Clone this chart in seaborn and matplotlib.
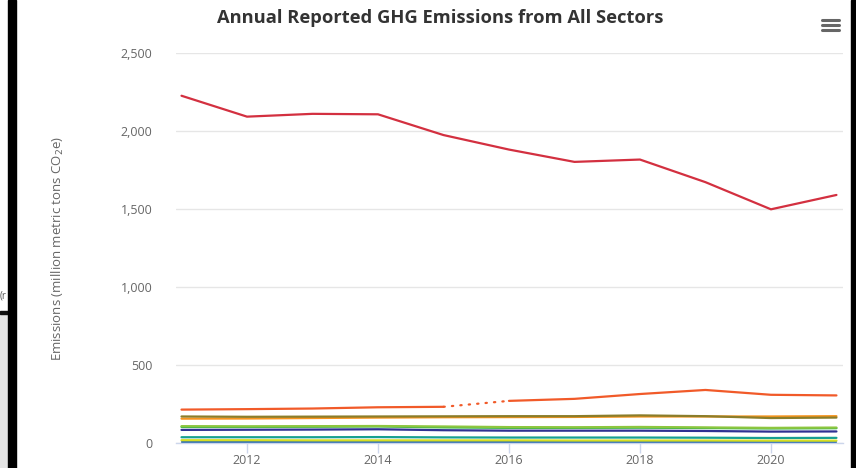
import matplotlib
matplotlib.use("Agg")
import matplotlib.pyplot as plt
import seaborn as sns
import pandas as pd
from matplotlib.lines import Line2D
from matplotlib.patches import Rectangle

years = [2011, 2012, 2013, 2014, 2015, 2016, 2017, 2018, 2019, 2020, 2021]
power_plants = [2226, 2092, 2110, 2107, 1974, 1881, 1802, 1817, 1672, 1498, 1590]
petroleum_gas = [214, 217, 221, 229, 232, 270, 283, 314, 340, 309, 305]
refineries = [170, 168, 169, 170, 171, 172, 172, 177, 172, 160, 163]
chemicals = [156, 157, 160, 163, 165, 166, 167, 170, 170, 170, 172]
other = [108, 107, 108, 109, 106, 102, 101, 103, 100, 97, 99]
minerals = [103, 103, 104, 106, 100, 97, 97, 98, 96, 93, 95]
waste = [84, 85, 86, 88, 82, 79, 79, 79, 77, 73, 74]
metals = [37, 37, 37, 38, 36, 35, 35, 35, 34, 32, 33]
pulp_paper = [18, 18, 17, 17, 17, 17, 16, 16, 16, 15, 15]
government = [4, 4, 4, 4, 4, 4, 4, 4, 4, 4, 4]
y_ticks = [0, 500, 1000, 1500, 2000, 2500]
x_ticks = [2012, 2014, 2016, 2018, 2020]

series = [
    ("Power Plants", power_plants, "#d33040"),
    ("Refineries", refineries, "#8b7d2a"),
    ("Chemicals", chemicals, "#f7941d"),
    ("Other", other, "#8dc63f"),
    ("Minerals", minerals, "#39b54a"),
    ("Waste", waste, "#2e3192"),
    ("Metals", metals, "#17a091"),
    ("Pulp and Paper", pulp_paper, "#d7df23"),
    ("Government", government, "#2b6cb0"),
]

sns.set_theme(style="white")
plt.rcParams['font.family'] = ['Open Sans', 'DejaVu Sans']

fig = plt.figure(figsize=(8.56, 4.68), dpi=100)
ax = fig.add_axes([176/856, 1-443/468, (843-176)/856, (443-53)/468])

for name, vals, col in reversed(series):
    sns.lineplot(x=years, y=vals, color=col, lw=1.6, ax=ax, legend=False)

pcol = "#f15a29"
sns.lineplot(x=years[:5], y=petroleum_gas[:5], color=pcol, lw=1.6, ax=ax)
sns.lineplot(x=years[5:], y=petroleum_gas[5:], color=pcol, lw=1.6, ax=ax)
sns.lineplot(x=years[4:6], y=petroleum_gas[4:6], color=pcol, lw=1.6, ax=ax,
             linestyle=(0, (0.6, 3.2)), dash_capstyle="round")

ax.set_xlim(2010.916, 2021.1)
ax.set_ylim(0, 2500)
ax.set_yticks(y_ticks)
ax.set_yticklabels([f"{v:,}" for v in y_ticks])
ax.set_xticks(x_ticks)
ax.set_xticklabels([str(v) for v in x_ticks])
ax.grid(axis="y", color="#e6e6e6", lw=1)
ax.set_axisbelow(True)
for s in ["top", "right", "left"]:
    ax.spines[s].set_visible(False)
ax.spines["bottom"].set_color("#ccd6eb")
ax.spines["bottom"].set_linewidth(1)
ax.tick_params(axis="x", colors="#666666", labelsize=9, length=7, width=1,
               direction="out", pad=1, bottom=True)
ax.tick_params(axis="x", color="#ccd6eb")
ax.tick_params(axis="y", colors="#666666", labelsize=9, length=0, pad=17)
ax.set_ylabel("Emissions (million metric tons CO$_2$e)", color="#666666",
              fontsize=9.5)
ax.yaxis.set_label_coords(-0.165, 0.5)

fig.text(440/856, 1-18/468, "Annual Reported GHG Emissions from All Sectors",
         ha="center", va="center", fontsize=13.2, fontweight="bold", color="#333333")

# menu icon
for yy in [20, 25, 30]:
    fig.add_artist(Line2D([822/856, 839/856], [1-yy/468, 1-yy/468],
                          color="#666666", lw=2.2))

# screenshot edges
fig.add_artist(Rectangle((0, 0), 8/856, 1-312/468, transform=fig.transFigure,
                         color="#e4e4e4", zorder=5))
fig.add_artist(Rectangle((0, 1-314/468), 8/856, 3/468, transform=fig.transFigure,
                         color="#111111", zorder=6))
fig.add_artist(Rectangle((8/856, 0), 8/856, 1, transform=fig.transFigure,
                         color="#000000", zorder=6))
fig.add_artist(Rectangle((851/856, 0), 5/856, 1, transform=fig.transFigure,
                         color="#000000", zorder=6))
fig.text(0, 1-296/468, "(r", fontsize=7, color="#555555", ha="left", va="center")

fig.savefig("out.png", dpi=100)
